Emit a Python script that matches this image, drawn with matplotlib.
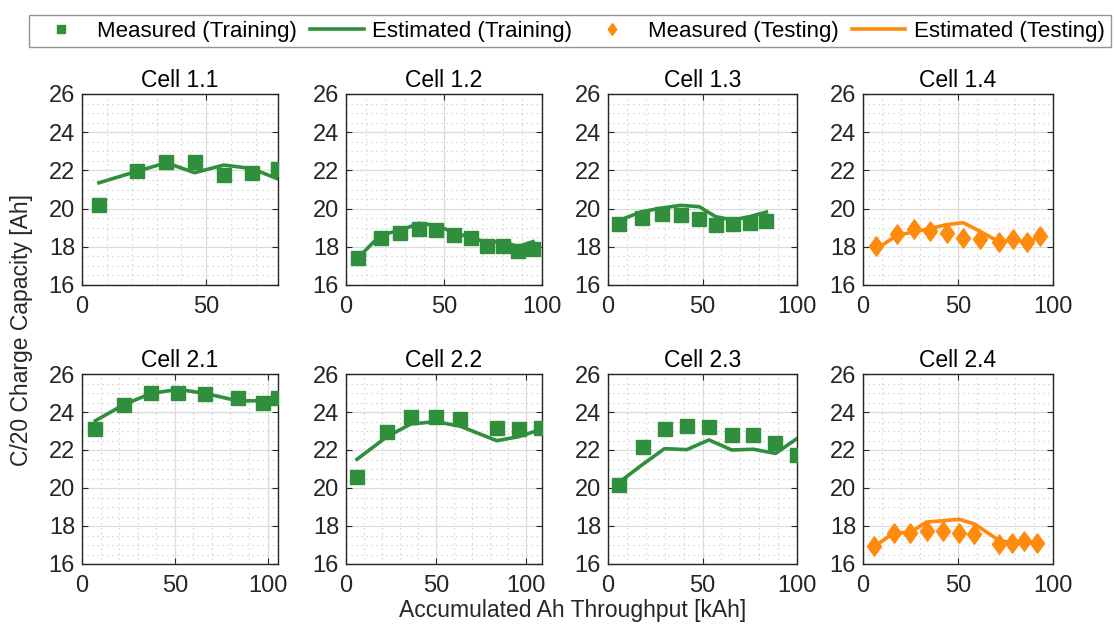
import matplotlib
matplotlib.use('Agg')
import matplotlib.pyplot as plt
from matplotlib.lines import Line2D
from matplotlib.ticker import MultipleLocator

plt.rcParams['font.family'] = ['Liberation Sans', 'DejaVu Sans']

GREEN = '#2f8f3c'
ORANGE = '#ff8a0c'
# MATLAB style diamond: a bit wider than matplotlib's thin 'd'
DIAMOND = [(0, 1), (0.72, 0), (0, -1), (-0.72, 0), (0, 1)]

# ------------------------------------------------------------------
# data (x in kAh, y in Ah)

cell_names = ['Cell 1.1', 'Cell 1.2', 'Cell 1.3', 'Cell 1.4',
              'Cell 2.1', 'Cell 2.2', 'Cell 2.3', 'Cell 2.4']
is_testing = [False, False, False, True, False, False, False, True]
x_max = [78.8, 100, 100, 100, 105.6, 108.7, 100, 100]

x_11 = [6.8, 22.0, 33.9, 45.3, 57.0, 68.2, 78.8]
meas_11 = [20.2, 21.95, 22.42, 22.42, 21.75, 21.85, 22.08]
est_11 = [21.35, 21.95, 22.4, 21.88, 22.28, 22.1, 21.55]

x_12 = [6.1, 17.9, 27.4, 37.1, 46.1, 55.3, 63.8, 71.9, 79.9, 87.6, 95.4]
meas_12 = [17.42, 18.48, 18.7, 18.92, 18.88, 18.6, 18.46, 18.05, 18.05, 17.8, 17.9]
est_12 = [17.42, 18.64, 18.84, 19.23, 19.12, 18.74, 18.49, 18.22, 18.29, 18.01, 18.27]

x_13 = [5.6, 17.9, 28.5, 38.5, 48.3, 56.9, 66.1, 75.0, 83.8]
meas_13 = [19.19, 19.51, 19.72, 19.65, 19.44, 19.16, 19.19, 19.26, 19.37]
est_13 = [19.37, 19.84, 20.03, 20.17, 20.1, 19.58, 19.4, 19.58, 19.82]

x_14 = [6.7, 18.0, 26.8, 35.2, 44.0, 52.8, 61.6, 71.8, 78.9, 86.3, 93.3]
meas_14 = [18.04, 18.67, 18.91, 18.81, 18.74, 18.46, 18.43, 18.25, 18.39, 18.25, 18.57]
est_14 = [17.87, 18.6, 18.78, 18.95, 19.16, 19.26, 18.81, 18.25, 18.39, 18.22, 18.53]

x_21 = [7.2, 22.6, 37.3, 51.9, 66.4, 84.2, 97.7, 105.6]
meas_21 = [23.11, 24.39, 25.02, 25.02, 24.95, 24.74, 24.49, 24.74]
est_21 = [23.54, 24.39, 24.98, 25.19, 24.98, 24.58, 24.6, 24.77]

x_22 = [6.1, 22.7, 36.0, 49.8, 63.1, 83.6, 95.8, 108.3]
meas_22 = [20.56, 22.96, 23.72, 23.75, 23.61, 23.16, 23.12, 23.16]
est_22 = [21.51, 22.7, 23.37, 23.49, 23.26, 22.49, 22.7, 23.09]

x_23 = [5.6, 18.6, 29.9, 41.7, 53.4, 65.5, 76.8, 88.6, 100.0]
meas_23 = [20.16, 22.16, 23.11, 23.26, 23.23, 22.81, 22.77, 22.35, 21.74]
est_23 = [20.28, 21.26, 22.07, 22.02, 22.53, 22.0, 22.04, 21.82, 22.6]

x_24 = [5.8, 16.4, 24.6, 33.5, 42.3, 50.7, 58.6, 71.8, 78.3, 84.5, 91.5]
meas_24 = [16.96, 17.65, 17.65, 17.75, 17.75, 17.65, 17.58, 17.05, 17.09, 17.19, 17.09]
est_24 = [16.91, 17.65, 17.65, 18.21, 18.28, 18.35, 18.11, 17.23, 17.12, 17.12, 17.16]

x_all = [x_11, x_12, x_13, x_14, x_21, x_22, x_23, x_24]
meas_all = [meas_11, meas_12, meas_13, meas_14, meas_21, meas_22, meas_23, meas_24]
est_all = [est_11, est_12, est_13, est_14, est_21, est_22, est_23, est_24]

# ------------------------------------------------------------------

W, H = 1114, 624
fig = plt.figure(figsize=(W / 100, H / 100), dpi=100)

# axes boxes in pixels: (left, right) per column, (top, bottom) per row
cols = [(82, 278), (346, 542), (608, 797), (863, 1053)]
rows = [(94, 285), (374, 564)]

for i in range(8):
    r, c = divmod(i, 4)
    l, rgt = cols[c]
    t, b = rows[r]
    ax = fig.add_axes([l / W, 1 - b / H, (rgt - l) / W, (b - t) / H])

    if is_testing[i]:
        ax.plot(x_all[i], est_all[i], color=ORANGE, lw=2.6, zorder=3)
        ax.plot(x_all[i], meas_all[i], marker=DIAMOND, ls='none',
                color=ORANGE, ms=14, zorder=4)
    else:
        ax.plot(x_all[i], est_all[i], color=GREEN, lw=2.6, zorder=3)
        ax.plot(x_all[i], meas_all[i], 's', color=GREEN, ms=9.5, zorder=4)

    ax.set_xlim(0, x_max[i])
    ax.set_ylim(16, 26)
    ax.xaxis.set_major_locator(MultipleLocator(50))
    ax.xaxis.set_minor_locator(MultipleLocator(10))
    ax.yaxis.set_major_locator(MultipleLocator(2))
    ax.yaxis.set_minor_locator(MultipleLocator(0.5))
    ax.grid(which='major', color='#dcdcdc', lw=0.9)
    ax.grid(which='minor', color='#c4c4c4', lw=0.8, linestyle=(0, (1, 3.5)))
    ax.set_axisbelow(True)
    ax.tick_params(which='both', direction='in', top=True, right=True,
                   labelsize=17, colors='#262626')
    ax.tick_params(axis='x', pad=8)
    ax.tick_params(axis='y', pad=5)
    ax.tick_params(which='major', length=4)
    ax.tick_params(which='minor', length=0)
    for sp in ax.spines.values():
        sp.set_color('#262626')
        sp.set_linewidth(1.0)
    ax.set_title(cell_names[i], fontsize=16.5, pad=5)

fig.text(22 / W, 1 - 330 / H, 'C/20 Charge Capacity [Ah]', rotation=90,
         ha='center', va='center', fontsize=16.5, color='#262626')
fig.text(573 / W, 1 - 610 / H, 'Accumulated Ah Throughput [kAh]',
         ha='center', va='center', fontsize=16.5, color='#262626')

handles = [
    Line2D([], [], marker='s', ls='none', color=GREEN, ms=6),
    Line2D([], [], color=GREEN, lw=2.6),
    Line2D([], [], marker=DIAMOND, ls='none', color=ORANGE, ms=8.5),
    Line2D([], [], color=ORANGE, lw=2.6),
]
labels = ['Measured (Training)', 'Estimated (Training)',
          'Measured (Testing)', 'Estimated (Testing)']
leg = fig.legend(handles, labels, loc='center', ncol=4,
                 bbox_to_anchor=(570 / W, 1 - 31 / H), fontsize=16,
                 frameon=True, fancybox=False, edgecolor='#7a7a7a',
                 handlelength=2.4, handletextpad=0.4, columnspacing=0.6,
                 borderpad=0.25, borderaxespad=0.2)
leg.get_frame().set_linewidth(1.0)

fig.savefig('out.png', dpi=100)
